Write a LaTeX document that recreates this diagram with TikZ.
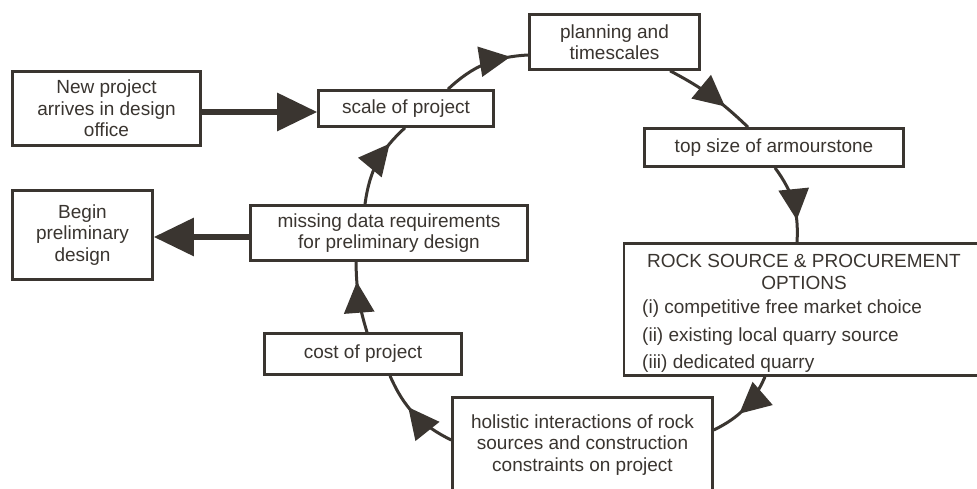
\documentclass[tikz,border=0pt]{standalone}
\usepackage{fontspec}
\setmainfont{Liberation Sans}
\usetikzlibrary{arrows.meta,decorations.markings}
\definecolor{dk}{RGB}{58,53,48}
\begin{document}
\begin{tikzpicture}[x=1pt,y=1pt,
  box/.style={draw=dk, line width=2.6pt, inner sep=0pt, text=dk, align=center,
    font=\fontsize{19}{21.5}\selectfont},
  txt/.style={text=dk, inner sep=0pt, align=center, font=\fontsize{19}{21.5}\selectfont},
  flow/.style={draw=dk, line width=3pt, postaction={decorate},
    decoration={markings, mark=at position #1 with {\arrow[dk]{Triangle[length=31pt,width=30pt]}}}},
  thick/.style={draw=dk, line width=6pt, -{Triangle[length=40pt,width=37pt]}}]
\clip (0,0) rectangle (977,-489);
\fill[white] (0,0) rectangle (977,-489);
% boxes
\node[box, minimum width=188pt, minimum height=74pt] (new) at (106.5,-108.5) {New project\\arrives in design\\office};
\node[box, minimum width=175pt, minimum height=36pt] (scale) at (406,-108.5) {scale of project};
\node[box, minimum width=170pt, minimum height=55pt] (plan) at (614.5,-42) {planning and\\timescales};
\node[box, minimum width=259pt, minimum height=38pt] (top) at (774,-147.5) {top size of armourstone};
\node[box, minimum width=375pt, minimum height=132pt] (rock) at (811.5,-309.5) {};
\node[txt] (rockt) at (804,-272) {ROCK SOURCE \& PROCUREMENT\\OPTIONS};
\node[txt, anchor=west] (rock1) at (642,-309) {(i) competitive free market choice};
\node[txt, anchor=west] (rock2) at (642,-337) {(ii) existing local quarry source};
\node[txt, anchor=west] (rock3) at (642,-364) {(iii) dedicated quarry};
\node[box, minimum width=260pt, minimum height=121pt] (hol) at (582.5,-458) {};
\node[txt] (holt) at (582.5,-445) {holistic interactions of rock\\sources and construction\\constraints on project};
\node[box, minimum width=197pt, minimum height=41pt] (cost) at (363,-354) {cost of project};
\node[box, minimum width=277pt, minimum height=55pt] (miss) at (389,-233) {missing data requirements\\for preliminary design};
\node[box, minimum width=140pt, minimum height=89pt] (begin) at (82.5,-235) {Begin\\preliminary\\design};
% thick arrows
\draw[thick] ([yshift=-3.5pt]new.east) -- ([yshift=-3.5pt]scale.west);
\draw[thick] ([yshift=-4pt]miss.west) -- ([yshift=-4pt]miss.west -| begin.east);
% cycle connectors
\draw[flow=0.8] ([xshift=42pt]scale.north) to[bend left=20] ([yshift=-13pt]plan.west);
\draw[flow=0.68] ([xshift=55.5pt]plan.south) to[bend left=8] ([xshift=-26pt]top.north);
\draw[flow=0.72] ([xshift=1pt]top.south) to[bend left=20] ([xshift=-14.5pt]rock.north);
\draw[flow=0.6] ([xshift=-46.5pt]rock.south) to[bend left=20] ([yshift=28pt]hol.east);
\draw[flow=0.6] ([yshift=18pt]hol.west) to[bend left=20] ([xshift=27pt]cost.south);
\draw[flow=0.72] ([xshift=4pt]cost.north) to[bend left=8] ([xshift=-33pt]miss.south);
\draw[flow=0.75] ([xshift=-24pt]miss.north) to[bend left=20] ([xshift=-1pt]scale.south);
\end{tikzpicture}
\end{document}
